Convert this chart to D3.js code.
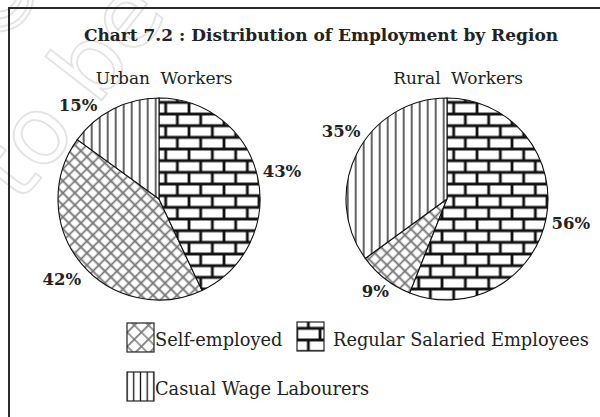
<!DOCTYPE html>
<html>
<head>
<meta charset="utf-8">
<script src="https://cdn.jsdelivr.net/npm/d3@7"></script>
<style>
  body { margin: 0; background: #fff; }
  svg { display: block; }
  text { font-family: "DejaVu Serif", serif; fill: #222; }
</style>
</head>
<body>
<div id="chart"></div>
<script>
const title = "Chart 7.2 : Distribution of Employment by Region";
const categories = ["Self-employed", "Regular Salaried Employees", "Casual Wage Labourers"];
const regions = ["Urban Workers", "Rural Workers"];
// shares in %, same order as categories
const urbanShares = [42, 43, 15];
const ruralShares = [9, 56, 35];
// order the slices run clockwise from 12 o'clock
const sliceOrder = ["Regular Salaried Employees", "Self-employed", "Casual Wage Labourers"];

const width = 600, height = 417;
const radius = 101;

const svg = d3.select("#chart").append("svg")
  .attr("width", width)
  .attr("height", height);

const defs = svg.append("defs");

// hatch patterns, x0/y0 line the tiles up with the shapes
function brick(id, x0, y0) {
  const w = 23.33, q = w / 4;
  const p = defs.append("pattern").attr("id", id)
    .attr("patternUnits", "userSpaceOnUse")
    .attr("width", w).attr("height", w)
    .attr("x", x0).attr("y", y0);
  p.append("rect").attr("width", w).attr("height", w).attr("fill", "#fff");
  p.append("path")
    .attr("d", `M0,${q}H${w}M0,${3 * q}H${w}M${q},${q}V${3 * q}M${3 * q},${3 * q}V${w}M${3 * q},0V${q}`)
    .attr("stroke", "#111").attr("stroke-width", 2.8);
}
function cross(id, w) {
  const p = defs.append("pattern").attr("id", id)
    .attr("patternUnits", "userSpaceOnUse")
    .attr("width", w).attr("height", w)
    .attr("patternTransform", "rotate(45)");
  p.append("rect").attr("width", w).attr("height", w).attr("fill", "#fff");
  p.append("path")
    .attr("d", `M${w / 2},0V${w}M0,${w / 2}H${w}`)
    .attr("stroke", "#777").attr("stroke-width", 1.7);
}
function stripes(id, w, x0) {
  const p = defs.append("pattern").attr("id", id)
    .attr("patternUnits", "userSpaceOnUse")
    .attr("width", w).attr("height", 10)
    .attr("x", x0);
  p.append("rect").attr("width", w).attr("height", 10).attr("fill", "#fff");
  p.append("path").attr("d", `M${w / 2},0V10`)
    .attr("stroke", "#111").attr("stroke-width", 1.3);
}
brick("pat-brick", 0.86, 14.2); cross("pat-cross", 8.5); stripes("pat-stripe", 8, 0.7);
brick("leg-brick", 10.9, 19.2); cross("leg-cross", 10); stripes("leg-stripe", 6.75, 123.6);

const fillFor = {
  "Self-employed": "cross",
  "Regular Salaried Employees": "brick",
  "Casual Wage Labourers": "stripe"
};

// faint watermark
const mark = svg.append("g");
mark.append("text")
  .attr("transform", "translate(20,205) rotate(-52)")
  .text("to be");
mark.append("text")
  .attr("transform", "translate(0,-2) rotate(-52)")
  .attr("text-anchor", "middle")
  .attr("dy", "0.35em")
  .text("©");
mark.selectAll("text")
  .style("font-family", "DejaVu Sans")
  .style("font-size", "94px")
  .style("fill", "none")
  .attr("stroke", "#e3e3e3")
  .attr("stroke-width", 1.8);

// frame (runs off the right and bottom edge)
svg.append("rect")
  .attr("x", 9).attr("y", 8)
  .attr("width", 640).attr("height", 440)
  .attr("fill", "none")
  .attr("stroke", "#2a2a2a")
  .attr("stroke-width", 2);

svg.append("text")
  .attr("x", 321).attr("y", 41)
  .attr("text-anchor", "middle")
  .style("font-size", "17px")
  .style("font-weight", "bold")
  .text(title);

const xScale = d3.scalePoint().domain(regions).range([159, 447]);
const cy = 199;

const pie = d3.pie()
  .sort((a, b) => sliceOrder.indexOf(a.cat) - sliceOrder.indexOf(b.cat))
  .value(d => d.value);
const arc = d3.arc().innerRadius(0).outerRadius(radius);
const labelR = 126;

// small nudges so labels sit where the original has them
const labelNudge = {
  "Urban Workers|Casual Wage Labourers": { turn: -0.24, r: 124 },
  "Rural Workers|Casual Wage Labourers": { turn: 0.1, r: 126 },
  "Rural Workers|Self-employed": { turn: 0, r: 117 }
};

const shares = { "Urban Workers": urbanShares, "Rural Workers": ruralShares };

regions.forEach(region => {
  const data = categories.map((c, i) => ({ cat: c, value: shares[region][i] }));
  const g = svg.append("g")
    .attr("transform", `translate(${xScale(region)},${cy})`);

  g.append("text")
    .attr("x", region === "Urban Workers" ? 5 : 11)
    .attr("y", -115)
    .attr("text-anchor", "middle")
    .style("font-size", "17px")
    .style("word-spacing", "5px")
    .text(region);

  const arcs = pie(data);
  g.selectAll("path.slice")
    .data(arcs)
    .join("path")
    .attr("class", "slice")
    .attr("d", arc)
    .attr("fill", d => `url(#pat-${fillFor[d.data.cat]})`)
    .attr("stroke", "#111")
    .attr("stroke-width", 1.1);

  g.selectAll("text.pct")
    .data(arcs)
    .join("text")
    .attr("class", "pct")
    .attr("transform", d => {
      const n = labelNudge[region + "|" + d.data.cat] || { turn: 0, r: labelR };
      const la = d3.arc().innerRadius(n.r).outerRadius(n.r);
      const c = la.centroid({ startAngle: d.startAngle + n.turn, endAngle: d.endAngle + n.turn });
      return `translate(${c})`;
    })
    .attr("text-anchor", "middle")
    .attr("dy", "0.36em")
    .style("font-size", "16.5px")
    .style("font-weight", "bold")
    .text(d => d.data.value + "%");
});

// legend
const legendPos = [
  { cat: "Self-employed", x: 127, y: 323, gap: 1 },
  { cat: "Regular Salaried Employees", x: 297, y: 322, gap: 9 },
  { cat: "Casual Wage Labourers", x: 127, y: 372, gap: 1 }
];
const leg = svg.selectAll("g.legend")
  .data(legendPos)
  .join("g")
  .attr("class", "legend")
  .attr("transform", d => `translate(${d.x},${d.y})`);

leg.append("rect")
  .attr("width", 27).attr("height", 29)
  .attr("fill", d => `url(#leg-${fillFor[d.cat]})`)
  .attr("stroke", "#222")
  .attr("stroke-width", 1.2)
  .attr("transform", d => `translate(${-d.x},${-d.y})`)
  .attr("x", d => d.x).attr("y", d => d.y);

leg.append("text")
  .attr("x", d => 27 + d.gap)
  .attr("y", d => 23 + (d.y === 322 ? 1 : 0))
  .style("font-size", "17.8px")
  .text(d => d.cat);
</script>
</body>
</html>
